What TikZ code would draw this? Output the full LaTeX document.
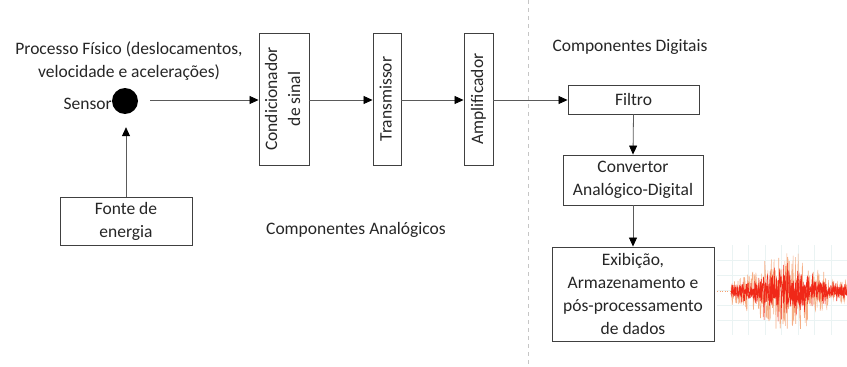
\documentclass[tikz,border=0pt]{standalone}
\usepackage{fontspec}
\setmainfont{Carlito}
\usetikzlibrary{arrows.meta}
\definecolor{lineg}{HTML}{5A5A5A}
\definecolor{boxg}{HTML}{404040}
\definecolor{txt}{HTML}{262626}
\definecolor{gridc}{HTML}{EAF3F3}
\definecolor{waveo}{HTML}{F4A070}
\definecolor{waver}{HTML}{F02818}
\tikzset{
  box/.style={draw=boxg, line width=0.9pt, fill=white, align=center, inner sep=2pt, text=txt},
  conn/.style={draw=lineg, line width=0.8pt, -{Triangle[length=9pt,width=8pt,color=black]}},
  lbl/.style={align=center, text=txt, inner sep=0pt},
}
\newcommand{\vtext}[1]{\rotatebox{90}{\begin{tabular}{@{}c@{}}#1\end{tabular}}}
\begin{document}
\begin{tikzpicture}[x=1pt,y=-1pt,
  declare function={env(\x)=(\x<745)*14+(\x>=745)*(\x<760)*20+(\x>=760)*(\x<775)*32+(\x>=775)*(\x<808)*38+(\x>=808)*(\x<828)*22+(\x>=828)*12;}]
\fontsize{17.5}{23}\selectfont
\useasboundingbox (0,0) rectangle (847,367);
% dashed separator
\draw[gray!45, line width=0.7pt, dash pattern=on 4pt off 4pt] (528,0) -- (528,367);
% texts
\node[lbl] (proc) at (129,61) {Processo Físico (deslocamentos,\\velocidade e acelerações)};
\node[circle, fill=black, minimum size=26pt, inner sep=0pt] (sensor) at (125,101) {};
\node[lbl, anchor=east] (senslbl) at (112,104) {Sensor};
\node[lbl] (analog) at (356,230) {Componentes Analógicos};
\node[lbl] (digit) at (630,47) {Componentes Digitais};
% boxes
\node[box, minimum width=50pt, minimum height=132pt] (cond) at (284,99) {\vtext{Condicionador\\de sinal}};
\node[box, minimum width=28pt, minimum height=132pt] (trans) at (387,99) {\vtext{Transmissor}};
\node[box, minimum width=29pt, minimum height=132pt] (amp) at (478.5,99) {\vtext{Amplificador}};
\node[box, minimum width=131pt, minimum height=29pt] (filt) at (633.5,99.5) {Filtro};
\node[box, minimum width=140pt, minimum height=50pt] (conv) at (633,180) {Convertor\\Analógico-Digital};
\node[box, minimum width=162pt, minimum height=94pt] (exib) at (633,294) {Exibição,\\Armazenamento e\\pós-processamento\\de dados};
\node[box, minimum width=132pt, minimum height=48pt] (fonte) at (126,221) {Fonte de\\energia};
% connectors
\draw[conn, shorten <=12pt] (sensor.east |- 0,100) -- (cond.west |- 0,100);
\draw[conn] (cond.east |- 0,100) -- (trans.west |- 0,100);
\draw[conn] (trans.east |- 0,100) -- (amp.west |- 0,100);
\draw[conn] (amp.east |- 0,100) -- (filt.west |- 0,100);
\draw[conn] (filt.south) -- (conv.north);
\draw[conn] (conv.south) -- (exib.north);
\draw[conn, shorten >=13pt] (fonte.north) -- (fonte.north |- sensor.south);
% waveform picture
\begin{scope}
\clip (717,245) rectangle (847,335);
\foreach \gx in {732,748.5,765,781.5,798,814.5,831} \draw[gridc, line width=0.6pt] (\gx,245) -- (\gx,335);
\foreach \gy in {260,275,290,305,320} \draw[gridc, line width=0.6pt] (717,\gy) -- (847,\gy);
\draw[waveo, line width=0.9pt, dash pattern=on 1pt off 1.5pt] (717,291) -- (731,291);
\pgfmathsetseed{7}
\draw[waveo, line width=0.6pt, opacity=0.85] plot[domain=731:847, samples=300] (\x, {291 + env(\x)*rand});
\pgfmathsetseed{3}
\draw[waver, line width=0.6pt] plot[domain=731:847, samples=350] (\x, {291 + 0.45*env(\x)*rand});
\pgfmathsetseed{11}
\draw[waver, line width=0.5pt] plot[domain=731:847, samples=250] (\x, {291 + env(\x)*rand*abs(rand)});
\end{scope}
\end{tikzpicture}
\end{document}
